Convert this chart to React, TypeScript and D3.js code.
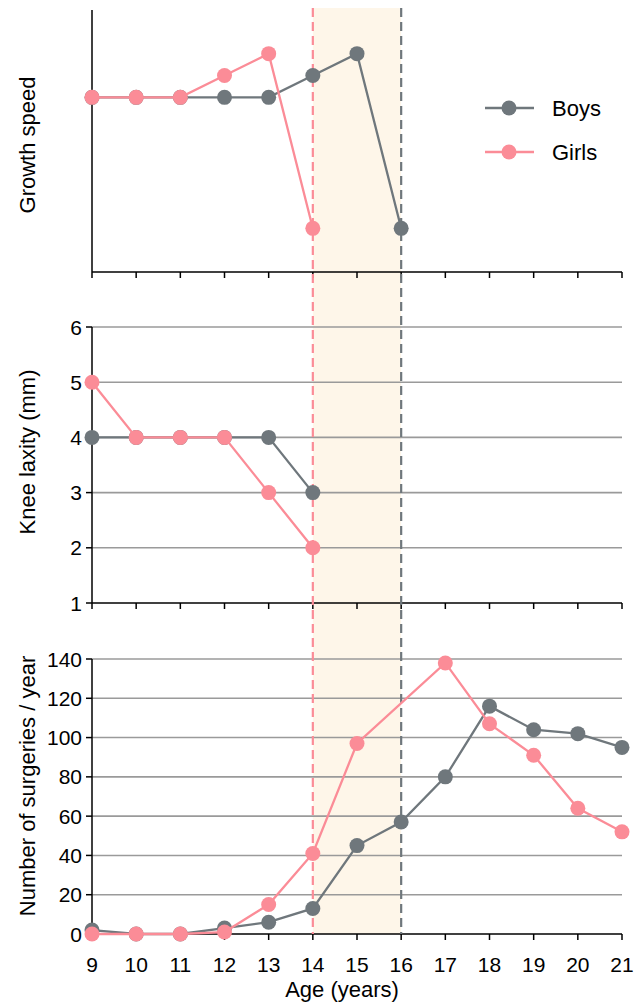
import React from "react";
import * as d3 from "d3";

const ages = [9, 10, 11, 12, 13, 14, 15, 16, 17, 18, 19, 20, 21];

// growth speed (arbitrary units, no scale shown)
const growthBoys = [8, 8, 8, 8, 8, 9, 10, 2];
const growthGirls = [8, 8, 8, 9, 10, 2];

// knee laxity (mm)
const laxityBoys = [4, 4, 4, 4, 4, 3];
const laxityGirls = [5, 4, 4, 4, 3, 2];
const laxityTicks = [1, 2, 3, 4, 5, 6];

// number of surgeries / year (girls have no value at 16)
const surgBoys: (number | null)[] = [2, 0, 0, 3, 6, 13, 45, 57, 80, 116, 104, 102, 95];
const surgGirls: (number | null)[] = [0, 0, 0, 1, 15, 41, 97, null, 138, 107, 91, 64, 52];
const surgTicks = [0, 20, 40, 60, 80, 100, 120, 140];

const BOYS = "#6f777c";
const GIRLS = "#fb8c97";
const FONT = "'Liberation Sans', Arial, Helvetica, sans-serif";

export default function App() {
  const width = 640;
  const height = 1002;

  const x = d3.scaleLinear().domain([9, 21]).range([92, 622]);
  const yTop = d3.scaleLinear().domain([0, 12]).range([272, 10]);
  const yMid = d3.scaleLinear().domain([1, 6]).range([603, 327]);
  const yBot = d3.scaleLinear().domain([0, 140]).range([934, 659]);

  const pts = (vals: (number | null)[], y: d3.ScaleLinear<number, number>) =>
    vals
      .map((v, i) => (v == null ? null : ([x(ages[i]), y(v)] as [number, number])))
      .filter((d): d is [number, number] => d != null);

  const line = d3.line();

  const series = (vals: (number | null)[], y: d3.ScaleLinear<number, number>, color: string, key: string) => {
    const p = pts(vals, y);
    return (
      <g key={key}>
        <path d={line(p) || ""} fill="none" stroke={color} strokeWidth={2.3} />
        {p.map((d, i) => (
          <circle key={i} cx={d[0]} cy={d[1]} r={7.5} fill={color} />
        ))}
      </g>
    );
  };

  const xTicks = (y0: number) => (
    <g>
      <line x1={x(9)} x2={x(21)} y1={y0} y2={y0} stroke="#000" strokeWidth={1.5} />
      {ages.map((a) => (
        <line key={a} x1={x(a)} x2={x(a)} y1={y0} y2={y0 + 6} stroke="#000" strokeWidth={1.5} />
      ))}
    </g>
  );

  const yAxis = (ticks: number[], y: d3.ScaleLinear<number, number>) => (
    <g>
      {ticks.slice(1).map((t) => (
        <line key={"g" + t} x1={x(9)} x2={x(21)} y1={y(t)} y2={y(t)} stroke="#9a9a9a" strokeWidth={1.6} />
      ))}
      <line x1={x(9)} x2={x(9)} y1={y(ticks[0])} y2={y(ticks[ticks.length - 1])} stroke="#000" strokeWidth={1.5} />
      {ticks.map((t) => (
        <g key={t}>
          <line x1={x(9) - 6} x2={x(9)} y1={y(t)} y2={y(t)} stroke="#000" strokeWidth={1.5} />
          <text x={82} y={y(t)} dy="0.36em" textAnchor="end" fontSize={21} fontFamily={FONT}>
            {t}
          </text>
        </g>
      ))}
    </g>
  );

  const yTitle = (label: string, cy: number) => (
    <text
      transform={`translate(35,${cy}) rotate(-90)`}
      textAnchor="middle"
      fontSize={22}
      fontFamily={FONT}
    >
      {label}
    </text>
  );

  return (
    <svg
      width={width}
      height={height}
      style={{ position: "absolute", left: 0, top: 0, background: "#fff" }}
    >
      {/* shaded growth-spurt band */}
      <rect x={x(14)} y={8} width={x(16) - x(14)} height={934 - 8} fill="#fef6e9" />

      {/* top panel */}
      <line x1={x(9)} x2={x(9)} y1={yTop(12)} y2={yTop(0)} stroke="#000" strokeWidth={1.5} />
      {xTicks(yTop(0))}

      {/* middle panel */}
      {yAxis(laxityTicks, yMid)}
      {xTicks(yMid(1))}

      {/* bottom panel */}
      {yAxis(surgTicks, yBot)}
      {xTicks(yBot(0))}

      {/* dashed markers */}
      <line x1={x(14)} x2={x(14)} y1={8} y2={934} stroke={GIRLS} strokeWidth={2.2} strokeDasharray="9,5" />
      <line x1={x(16)} x2={x(16)} y1={8} y2={934} stroke={BOYS} strokeWidth={2.2} strokeDasharray="9,5" />

      {series(growthBoys, yTop, BOYS, "gb")}
      {series(growthGirls, yTop, GIRLS, "gg")}
      {series(laxityBoys, yMid, BOYS, "lb")}
      {series(laxityGirls, yMid, GIRLS, "lg")}
      {series(surgBoys, yBot, BOYS, "sb")}
      {series(surgGirls, yBot, GIRLS, "sg")}

      {/* x tick labels */}
      {ages.map((a) => (
        <text key={a} x={x(a)} y={972} textAnchor="middle" fontSize={21} fontFamily={FONT}>
          {a}
        </text>
      ))}
      <text x={342} y={997} textAnchor="middle" fontSize={22} fontFamily={FONT}>
        Age (years)
      </text>

      {yTitle("Growth speed", 145)}
      {yTitle("Knee laxity (mm)", 452)}
      {yTitle("Number of surgeries / year", 786)}

      {/* legend */}
      {[
        { label: "Boys", color: BOYS, y: 108 },
        { label: "Girls", color: GIRLS, y: 152 },
      ].map((d) => (
        <g key={d.label}>
          <line x1={485} x2={534} y1={d.y} y2={d.y} stroke={d.color} strokeWidth={2.3} />
          <circle cx={509} cy={d.y} r={7.5} fill={d.color} />
          <text x={552} y={d.y} dy="0.36em" fontSize={22} fontFamily={FONT}>
            {d.label}
          </text>
        </g>
      ))}
    </svg>
  );
}
